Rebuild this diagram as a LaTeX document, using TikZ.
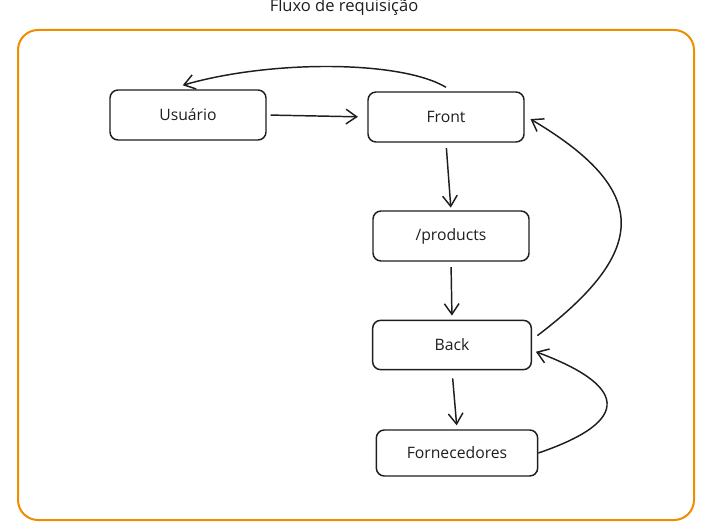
\documentclass[tikz,border=0pt]{standalone}
\usepackage{fontspec}
\setmainfont{Open Sans}
\usetikzlibrary{arrows.meta}
\definecolor{ink}{HTML}{1E1E1E}
\definecolor{frameorange}{HTML}{F08C00}
\begin{document}
\begin{tikzpicture}[x=0.75pt,y=-0.75pt,
  box/.style={draw=ink, line width=1.1pt, rounded corners=6pt, minimum width=117pt, minimum height=37.5pt, font=\fontsize{11.8}{13}\selectfont, text=ink, inner sep=0pt},
  arr/.style={draw=ink, line width=1.1pt, -{Straight Barb[length=8pt,width=11pt,line width=1.1pt]}},
  title/.style={font=\fontsize{12.4}{14}\selectfont, text=ink, inner sep=0pt}]
\useasboundingbox (0,0) rectangle (710,531);
\draw[frameorange, line width=1.5pt, rounded corners=15pt] (18,30) rectangle (694,520);
\node[title] (title) at (344,7) {Fluxo de requisição};
\node[box] (usuario) at (188,115) {Usuário};
\node[box] (front) at (446,117) {Front};
\node[box] (products) at (451,236) {/products};
\node[box, minimum width=119pt, minimum height=37pt] (back) at (452,345) {Back};
\node[box, minimum width=121pt, minimum height=34.5pt] (forn) at (457,453) {Fornecedores};
\draw[arr, shorten <=3pt, shorten >=7pt] (usuario.east) -- (front.west);
\draw[arr] ([yshift=3pt]front.north) .. controls (400,60) and (270,60) .. ([xshift=-4pt,yshift=3pt]usuario.north);
\draw[arr, shorten <=4pt, shorten >=2pt] (front.south) -- (products.north);
\draw[arr, shorten <=4pt, shorten >=3pt] (products.south) -- (back.north);
\draw[arr, shorten <=6pt, shorten >=3pt] (back.south) -- (forn.north);
\draw[arr, shorten <=5pt, shorten >=5pt] ([yshift=4pt]back.east) .. controls (650,250) and (650,190) .. ([yshift=1pt]front.east);
\draw[arr, shorten >=3pt] (forn.east) .. controls (635,420) and (625,385) .. ([yshift=-4pt]back.east);
\end{tikzpicture}
\end{document}
